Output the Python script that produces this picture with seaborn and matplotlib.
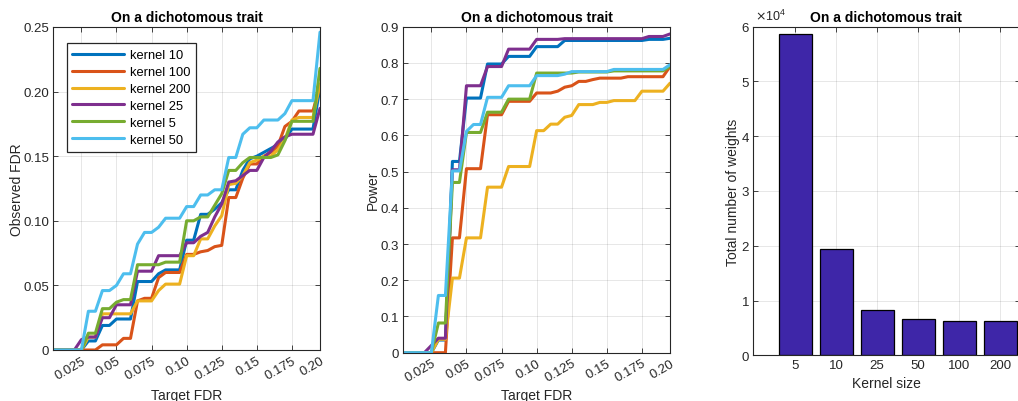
import numpy as np
import pandas as pd
import matplotlib
matplotlib.use("Agg")
import matplotlib.pyplot as plt
import seaborn as sns

# ---------------- data ----------------
target_fdr = [0.005, 0.010, 0.015, 0.020, 0.025, 0.030, 0.035, 0.040, 0.045, 0.050,
              0.055, 0.060, 0.065, 0.070, 0.075, 0.080, 0.085, 0.090, 0.095, 0.100,
              0.105, 0.110, 0.115, 0.120, 0.125, 0.130, 0.135, 0.140, 0.145, 0.150,
              0.155, 0.160, 0.165, 0.170, 0.175, 0.180, 0.185, 0.190, 0.195]

kernels = ["kernel 10", "kernel 100", "kernel 200", "kernel 25", "kernel 5", "kernel 50"]

obs_k10 = [0, 0, 0, 0, 0, 0.007, 0.007, 0.019, 0.019, 0.024,
           0.024, 0.024, 0.053, 0.053, 0.053, 0.059, 0.062, 0.062, 0.062, 0.085,
           0.085, 0.105, 0.105, 0.109, 0.114, 0.124, 0.124, 0.139, 0.148, 0.150,
           0.153, 0.156, 0.159, 0.163, 0.171, 0.171, 0.171, 0.171, 0.203]
obs_k100 = [0, 0, 0, 0, 0, 0, 0, 0.004, 0.004, 0.004,
            0.009, 0.009, 0.038, 0.040, 0.040, 0.056, 0.060, 0.060, 0.060, 0.074,
            0.074, 0.076, 0.077, 0.080, 0.081, 0.118, 0.118, 0.133, 0.144, 0.144,
            0.150, 0.153, 0.158, 0.173, 0.177, 0.185, 0.185, 0.185, 0.205]
obs_k200 = [0, 0, 0, 0, 0, 0.010, 0.010, 0.028, 0.028, 0.028,
            0.028, 0.028, 0.038, 0.038, 0.038, 0.046, 0.051, 0.051, 0.051, 0.073,
            0.073, 0.086, 0.086, 0.096, 0.104, 0.128, 0.129, 0.135, 0.145, 0.147,
            0.150, 0.150, 0.155, 0.163, 0.178, 0.180, 0.180, 0.180, 0.206]
obs_k25 = [0, 0, 0, 0, 0.008, 0.010, 0.010, 0.025, 0.025, 0.035,
           0.035, 0.035, 0.061, 0.061, 0.061, 0.073, 0.073, 0.073, 0.073, 0.083,
           0.083, 0.088, 0.091, 0.103, 0.113, 0.130, 0.131, 0.135, 0.139, 0.139,
           0.149, 0.154, 0.161, 0.165, 0.167, 0.167, 0.167, 0.167, 0.187]
obs_k5 = [0, 0, 0, 0, 0, 0.013, 0.013, 0.032, 0.032, 0.037,
          0.039, 0.039, 0.066, 0.066, 0.066, 0.066, 0.068, 0.068, 0.068, 0.100,
          0.100, 0.103, 0.103, 0.112, 0.121, 0.139, 0.139, 0.145, 0.149, 0.149,
          0.149, 0.149, 0.151, 0.162, 0.177, 0.177, 0.177, 0.177, 0.218]
obs_k50 = [0, 0, 0, 0, 0, 0.030, 0.030, 0.046, 0.046, 0.050,
           0.059, 0.059, 0.082, 0.091, 0.091, 0.095, 0.102, 0.102, 0.102, 0.111,
           0.111, 0.120, 0.120, 0.124, 0.124, 0.149, 0.149, 0.167, 0.172, 0.172,
           0.178, 0.178, 0.178, 0.183, 0.193, 0.193, 0.193, 0.193, 0.246]

pow_k10 = [0, 0, 0, 0, 0, 0.035, 0.035, 0.528, 0.528, 0.703,
           0.703, 0.703, 0.797, 0.797, 0.797, 0.818, 0.818, 0.818, 0.818, 0.845,
           0.845, 0.845, 0.845, 0.862, 0.862, 0.862, 0.862, 0.862, 0.862, 0.862,
           0.862, 0.862, 0.862, 0.862, 0.862, 0.865, 0.865, 0.865, 0.868]
pow_k100 = [0, 0, 0, 0, 0, 0, 0, 0.317, 0.317, 0.508,
            0.508, 0.508, 0.657, 0.657, 0.657, 0.694, 0.694, 0.694, 0.694, 0.717,
            0.717, 0.717, 0.722, 0.733, 0.737, 0.749, 0.749, 0.754, 0.758, 0.758,
            0.758, 0.758, 0.762, 0.762, 0.762, 0.762, 0.762, 0.762, 0.790]
pow_k200 = [0, 0, 0, 0, 0, 0.037, 0.037, 0.206, 0.206, 0.317,
            0.317, 0.317, 0.457, 0.457, 0.457, 0.514, 0.514, 0.514, 0.514, 0.613,
            0.613, 0.631, 0.631, 0.650, 0.655, 0.685, 0.685, 0.685, 0.691, 0.691,
            0.696, 0.696, 0.696, 0.696, 0.722, 0.722, 0.722, 0.722, 0.744]
pow_k25 = [0, 0, 0, 0, 0.020, 0.040, 0.040, 0.505, 0.505, 0.737,
           0.737, 0.737, 0.790, 0.790, 0.790, 0.838, 0.838, 0.838, 0.838, 0.865,
           0.865, 0.865, 0.865, 0.867, 0.867, 0.867, 0.867, 0.867, 0.867, 0.867,
           0.867, 0.867, 0.867, 0.867, 0.867, 0.873, 0.873, 0.873, 0.880]
pow_k5 = [0, 0, 0, 0, 0, 0.082, 0.082, 0.470, 0.470, 0.608,
          0.608, 0.608, 0.664, 0.664, 0.664, 0.700, 0.700, 0.700, 0.700, 0.772,
          0.772, 0.772, 0.772, 0.772, 0.772, 0.775, 0.775, 0.775, 0.775, 0.775,
          0.778, 0.778, 0.778, 0.778, 0.778, 0.778, 0.778, 0.778, 0.790]
pow_k50 = [0, 0, 0, 0, 0, 0.158, 0.158, 0.502, 0.502, 0.611,
           0.630, 0.630, 0.705, 0.705, 0.705, 0.737, 0.737, 0.737, 0.737, 0.765,
           0.765, 0.765, 0.765, 0.769, 0.776, 0.776, 0.776, 0.776, 0.776, 0.776,
           0.782, 0.782, 0.782, 0.782, 0.782, 0.782, 0.782, 0.782, 0.795]

fdr_tick_pos = [0.025, 0.05, 0.075, 0.10, 0.125, 0.15, 0.175, 0.195]
fdr_tick_labels = ["0.025", "0.05", "0.075", "0.10", "0.125", "0.15", "0.175", "0.20"]

kernel_sizes = ["5", "10", "25", "50", "100", "200"]
total_weights = [58700, 19500, 8200, 6700, 6300, 6200]

# ---------------- style ----------------
sns.set_theme(style="white")
plt.rcParams["font.family"] = ["Liberation Sans", "DejaVu Sans"]
dark = "#262626"
palette = ["#0072BD", "#D95319", "#EDB120", "#7E2F8E", "#77AC30", "#4DBEEE"]
bar_color = "#3E26A8"

obs_series = [obs_k10, obs_k100, obs_k200, obs_k25, obs_k5, obs_k50]
pow_series = [pow_k10, pow_k100, pow_k200, pow_k25, pow_k5, pow_k50]
rows = []
for k, o, p in zip(kernels, obs_series, pow_series):
    for x, yo, yp in zip(target_fdr, o, p):
        rows.append({"kernel": k, "fdr": x, "obs": yo, "power": yp})
df = pd.DataFrame(rows)

W, H = 1018, 402
fig = plt.figure(figsize=(W / 100, H / 100), dpi=100)


def px_axes(l, t, r, b):
    return fig.add_axes([l / W, 1 - b / H, (r - l) / W, (b - t) / H])


ax1 = px_axes(53.3, 28.0, 320.0, 351.0)
ax2 = px_axes(403.3, 27.7, 670.0, 353.7)
ax3 = px_axes(753.3, 27.7, 1019.5, 356.3)


def style_axis(ax):
    ax.set_axisbelow(True)
    ax.grid(True, color=dark, alpha=0.13, lw=0.6)
    for s in ax.spines.values():
        s.set_color(dark)
        s.set_linewidth(0.8)
        s.set_visible(True)
    ax.tick_params(direction="in", length=3.5, width=0.6, color=dark,
                   labelcolor=dark, labelsize=9.5, top=True, right=True,
                   bottom=True, left=True, pad=3)
    ax.set_title("On a dichotomous trait", fontsize=10, fontweight="bold",
                 color="black", pad=4)


for ax, col, ylab, ylim, yt, ytl in [
    (ax1, "obs", "Observed FDR", (0, 0.25), [0, 0.05, 0.10, 0.15, 0.20, 0.25],
     ["0", "0.05", "0.10", "0.15", "0.20", "0.25"]),
    (ax2, "power", "Power", (0, 0.9), [0, 0.1, 0.2, 0.3, 0.4, 0.5, 0.6, 0.7, 0.8, 0.9],
     ["0", "0.1", "0.2", "0.3", "0.4", "0.5", "0.6", "0.7", "0.8", "0.9"]),
]:
    sns.lineplot(data=df, x="fdr", y=col, hue="kernel", hue_order=kernels,
                 palette=palette, linewidth=2.2, errorbar=None, ax=ax,
                 legend=(ax is ax1))
    ax.set_xlim(0.005, 0.195)
    ax.set_ylim(*ylim)
    ax.set_yticks(yt)
    ax.set_yticklabels(ytl)
    ax.set_xticks(fdr_tick_pos)
    ax.set_xticklabels(fdr_tick_labels, rotation=30, ha="right",
                       rotation_mode="anchor")
    style_axis(ax)
    ax.set_xlabel("Target FDR", fontsize=10, color=dark)
    ax.set_ylabel(ylab, fontsize=10, color=dark)

ax1.xaxis.set_label_coords(0.5, -0.118)
ax2.xaxis.set_label_coords(0.5, -0.108)
ax1.yaxis.set_label_coords(-0.108, 0.5)
ax2.yaxis.set_label_coords(-0.088, 0.5)

leg = ax1.legend(loc="upper left", bbox_to_anchor=(0.050, 0.9495),
                 borderaxespad=0, fontsize=9.3, handlelength=4.0,
                 handletextpad=0.45, labelspacing=0.38, borderpad=0.45,
                 frameon=True, fancybox=False, framealpha=1, title=None)
leg.get_frame().set_edgecolor(dark)
leg.get_frame().set_linewidth(0.9)
for line in leg.get_lines():
    line.set_linewidth(2.2)
for t in leg.get_texts():
    t.set_color("black")

# bar chart
sns.barplot(x=kernel_sizes, y=total_weights, order=kernel_sizes, color=bar_color,
            saturation=1, width=0.81, edgecolor="black", linewidth=0.9, ax=ax3)
ax3.set_xlim(-1.02, 5.47)
ax3.set_ylim(0, 60000)
ax3.set_yticks([0, 10000, 20000, 30000, 40000, 50000, 60000])
ax3.set_yticklabels(["0", "1", "2", "3", "4", "5", "6"])
style_axis(ax3)
ax3.set_xlabel("Kernel size", fontsize=10, color=dark)
ax3.set_ylabel("Total number of weights", fontsize=10, color=dark)
ax3.xaxis.set_label_coords(0.5, -0.064)
ax3.yaxis.set_label_coords(-0.05, 0.5)
ax3.text(0.005, 1.012, r"$\times\mathregular{10^{4}}$", transform=ax3.transAxes,
         fontsize=9, color=dark, ha="left", va="bottom")

fig.savefig("out.png", dpi=100)
